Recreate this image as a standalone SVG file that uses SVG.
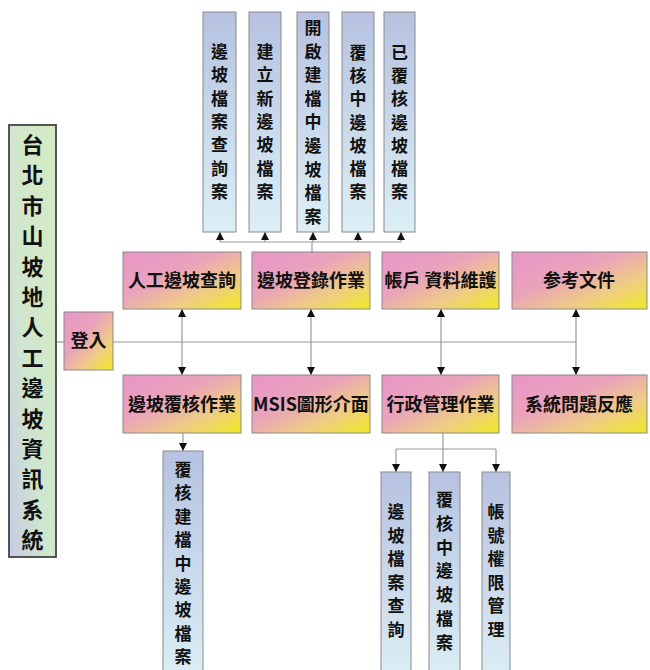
<svg xmlns="http://www.w3.org/2000/svg" width="650" height="670" viewBox="0 0 650 670">
<defs>
<linearGradient id="gBlue" x1="0" y1="0" x2="0" y2="1">
<stop offset="0" stop-color="#b6c2e0"/>
<stop offset="1" stop-color="#dceff5"/>
</linearGradient>
<linearGradient id="gTitle" x1="1" y1="0" x2="0" y2="1">
<stop offset="0" stop-color="#d6ebc2"/>
<stop offset="0.6" stop-color="#cfe6cf"/>
<stop offset="1" stop-color="#c6cbe6"/>
</linearGradient>
<linearGradient id="gPink" x1="0" y1="0" x2="1" y2="1">
<stop offset="0" stop-color="#e895c8"/>
<stop offset="0.4" stop-color="#eaa3bb"/>
<stop offset="0.7" stop-color="#efcc85"/>
<stop offset="1" stop-color="#f0ea22"/>
</linearGradient>
<marker id="arr" viewBox="0 0 8 8" refX="8" refY="4" markerWidth="8" markerHeight="8" markerUnits="userSpaceOnUse" orient="auto-start-reverse">
<path d="M0,0 L8,4 L0,8 z" fill="#111"/>
</marker>
<style>
.blue{fill:url(#gBlue);stroke:#8a8a8a;stroke-width:1}
.pink{fill:url(#gPink);stroke:#8a8a8a;stroke-width:1}
.title{fill:url(#gTitle);stroke:#444;stroke-width:1.8}
.t{font-family:"Noto Sans CJK TC","Noto Sans CJK SC",sans-serif;font-weight:bold;fill:#111;text-anchor:middle}
.v{font-size:17px}
.h{font-size:18px}
.big{font-size:22px}
.ln{stroke:#9a9a9a;stroke-width:1.2;fill:none}
.la{stroke:#9a9a9a;stroke-width:1.2;fill:none;marker-end:url(#arr)}
.lb{stroke:#9a9a9a;stroke-width:1.2;fill:none;marker-end:url(#arr);marker-start:url(#arr)}
</style>
</defs>

<g id="connectors">
<line class="ln" x1="56" y1="342" x2="64" y2="342"/>
<line class="ln" x1="113" y1="342" x2="576" y2="342"/>
<line class="lb" x1="182" y1="309" x2="182" y2="375"/>
<line class="lb" x1="311" y1="309" x2="311" y2="375"/>
<line class="lb" x1="441" y1="309" x2="441" y2="375"/>
<line class="lb" x1="576" y1="309" x2="576" y2="375"/>
<line class="ln" x1="312" y1="252" x2="312" y2="242"/>
<line class="ln" x1="220" y1="242" x2="401" y2="242"/>
<line class="la" x1="220" y1="242" x2="220" y2="232"/>
<line class="la" x1="265" y1="242" x2="265" y2="232"/>
<line class="la" x1="313" y1="242" x2="313" y2="232"/>
<line class="la" x1="358" y1="242" x2="358" y2="232"/>
<line class="la" x1="401" y1="242" x2="401" y2="232"/>
<line class="la" x1="183" y1="433" x2="183" y2="451"/>
<line class="ln" x1="443" y1="433" x2="443" y2="449"/>
<line class="ln" x1="396" y1="449" x2="496" y2="449"/>
<line class="la" x1="396" y1="449" x2="396" y2="472"/>
<line class="la" x1="443" y1="449" x2="443" y2="472"/>
<line class="la" x1="496" y1="449" x2="496" y2="472"/>
</g>

<g id="title">
<rect class="title" x="9" y="125" width="47" height="432"/>
<text class="t big">
<tspan x="32.5" y="153">台</tspan><tspan x="32.5" y="183.4">北</tspan><tspan x="32.5" y="213.8">市</tspan><tspan x="32.5" y="244.2">山</tspan><tspan x="32.5" y="274.6">坡</tspan><tspan x="32.5" y="305">地</tspan><tspan x="32.5" y="335.4">人</tspan><tspan x="32.5" y="365.8">工</tspan><tspan x="32.5" y="396.2">邊</tspan><tspan x="32.5" y="426.6">坡</tspan><tspan x="32.5" y="457">資</tspan><tspan x="32.5" y="487.4">訊</tspan><tspan x="32.5" y="517.8">系</tspan><tspan x="32.5" y="548.2">統</tspan>
</text>
</g>

<g id="login">
<rect class="pink" x="64" y="312" width="49" height="58"/>
<text class="t h" x="88.5" y="347">登入</text>
</g>

<g id="n_query">
<rect class="pink" x="123" y="252" width="118" height="57"/>
<text class="t h" x="182" y="287">人工邊坡查詢</text>
</g>
<g id="n_register">
<rect class="pink" x="252" y="252" width="118" height="57"/>
<text class="t h" x="311" y="287">邊坡登錄作業</text>
</g>
<g id="n_account">
<rect class="pink" x="382" y="252" width="117" height="57"/>
<text class="t h" x="440.5" y="287">帳戶 資料維護</text>
</g>
<g id="n_docs">
<rect class="pink" x="512" y="252" width="135" height="57"/>
<text class="t h" x="579" y="287">参考文件</text>
</g>

<g id="n_review">
<rect class="pink" x="123" y="375" width="118" height="58"/>
<text class="t h" x="182" y="410.5">邊坡覆核作業</text>
</g>
<g id="n_msis">
<rect class="pink" x="252" y="375" width="118" height="58"/>
<text class="t h" x="311" y="410.5">MSIS圖形介面</text>
</g>
<g id="n_admin">
<rect class="pink" x="382" y="375" width="117" height="58"/>
<text class="t h" x="440.5" y="410.5">行政管理作業</text>
</g>
<g id="n_feedback">
<rect class="pink" x="512" y="375" width="135" height="58"/>
<text class="t h" x="579" y="410.5">系統問題反應</text>
</g>

<g id="top1">
<rect class="blue" x="203" y="12" width="33" height="220"/>
<text class="t v"><tspan x="219.5" y="58">邊</tspan><tspan x="219.5" y="81.3">坡</tspan><tspan x="219.5" y="104.6">檔</tspan><tspan x="219.5" y="127.9">案</tspan><tspan x="219.5" y="151.2">查</tspan><tspan x="219.5" y="174.5">詢</tspan><tspan x="219.5" y="197.8">案</tspan></text>
</g>
<g id="top2">
<rect class="blue" x="249" y="12" width="32" height="220"/>
<text class="t v"><tspan x="265" y="58">建</tspan><tspan x="265" y="81.3">立</tspan><tspan x="265" y="104.6">新</tspan><tspan x="265" y="127.9">邊</tspan><tspan x="265" y="151.2">坡</tspan><tspan x="265" y="174.5">檔</tspan><tspan x="265" y="197.8">案</tspan></text>
</g>
<g id="top3">
<rect class="blue" x="297" y="12" width="32" height="220"/>
<text class="t v"><tspan x="313" y="34">開</tspan><tspan x="313" y="57.6">啟</tspan><tspan x="313" y="81.2">建</tspan><tspan x="313" y="104.8">檔</tspan><tspan x="313" y="128.4">中</tspan><tspan x="313" y="152">邊</tspan><tspan x="313" y="175.6">坡</tspan><tspan x="313" y="199.2">檔</tspan><tspan x="313" y="222.8">案</tspan></text>
</g>
<g id="top4">
<rect class="blue" x="342" y="12" width="32" height="220"/>
<text class="t v"><tspan x="358" y="59">覆</tspan><tspan x="358" y="82.2">核</tspan><tspan x="358" y="105.4">中</tspan><tspan x="358" y="128.6">邊</tspan><tspan x="358" y="151.8">坡</tspan><tspan x="358" y="175">檔</tspan><tspan x="358" y="198.2">案</tspan></text>
</g>
<g id="top5">
<rect class="blue" x="384" y="12" width="31" height="220"/>
<text class="t v"><tspan x="399.5" y="59">已</tspan><tspan x="399.5" y="82.2">覆</tspan><tspan x="399.5" y="105.4">核</tspan><tspan x="399.5" y="128.6">邊</tspan><tspan x="399.5" y="151.8">坡</tspan><tspan x="399.5" y="175">檔</tspan><tspan x="399.5" y="198.2">案</tspan></text>
</g>

<g id="bot1">
<rect class="blue" x="163" y="451" width="40" height="230"/>
<text class="t v"><tspan x="183" y="476">覆</tspan><tspan x="183" y="499.4">核</tspan><tspan x="183" y="522.8">建</tspan><tspan x="183" y="546.2">檔</tspan><tspan x="183" y="569.6">中</tspan><tspan x="183" y="593">邊</tspan><tspan x="183" y="616.4">坡</tspan><tspan x="183" y="639.8">檔</tspan><tspan x="183" y="663.2">案</tspan></text>
</g>
<g id="bot2">
<rect class="blue" x="381" y="472" width="30" height="210"/>
<text class="t v"><tspan x="396" y="518">邊</tspan><tspan x="396" y="541.6">坡</tspan><tspan x="396" y="565.2">檔</tspan><tspan x="396" y="588.8">案</tspan><tspan x="396" y="612.4">查</tspan><tspan x="396" y="636">詢</tspan></text>
</g>
<g id="bot3">
<rect class="blue" x="429" y="472" width="31" height="210"/>
<text class="t v"><tspan x="444.5" y="506">覆</tspan><tspan x="444.5" y="529.8">核</tspan><tspan x="444.5" y="553.6">中</tspan><tspan x="444.5" y="577.4">邊</tspan><tspan x="444.5" y="601.2">坡</tspan><tspan x="444.5" y="625">檔</tspan><tspan x="444.5" y="648.8">案</tspan></text>
</g>
<g id="bot4">
<rect class="blue" x="482" y="472" width="28" height="210"/>
<text class="t v"><tspan x="496" y="518">帳</tspan><tspan x="496" y="541.6">號</tspan><tspan x="496" y="565.2">權</tspan><tspan x="496" y="588.8">限</tspan><tspan x="496" y="612.4">管</tspan><tspan x="496" y="636">理</tspan></text>
</g>
</svg>
